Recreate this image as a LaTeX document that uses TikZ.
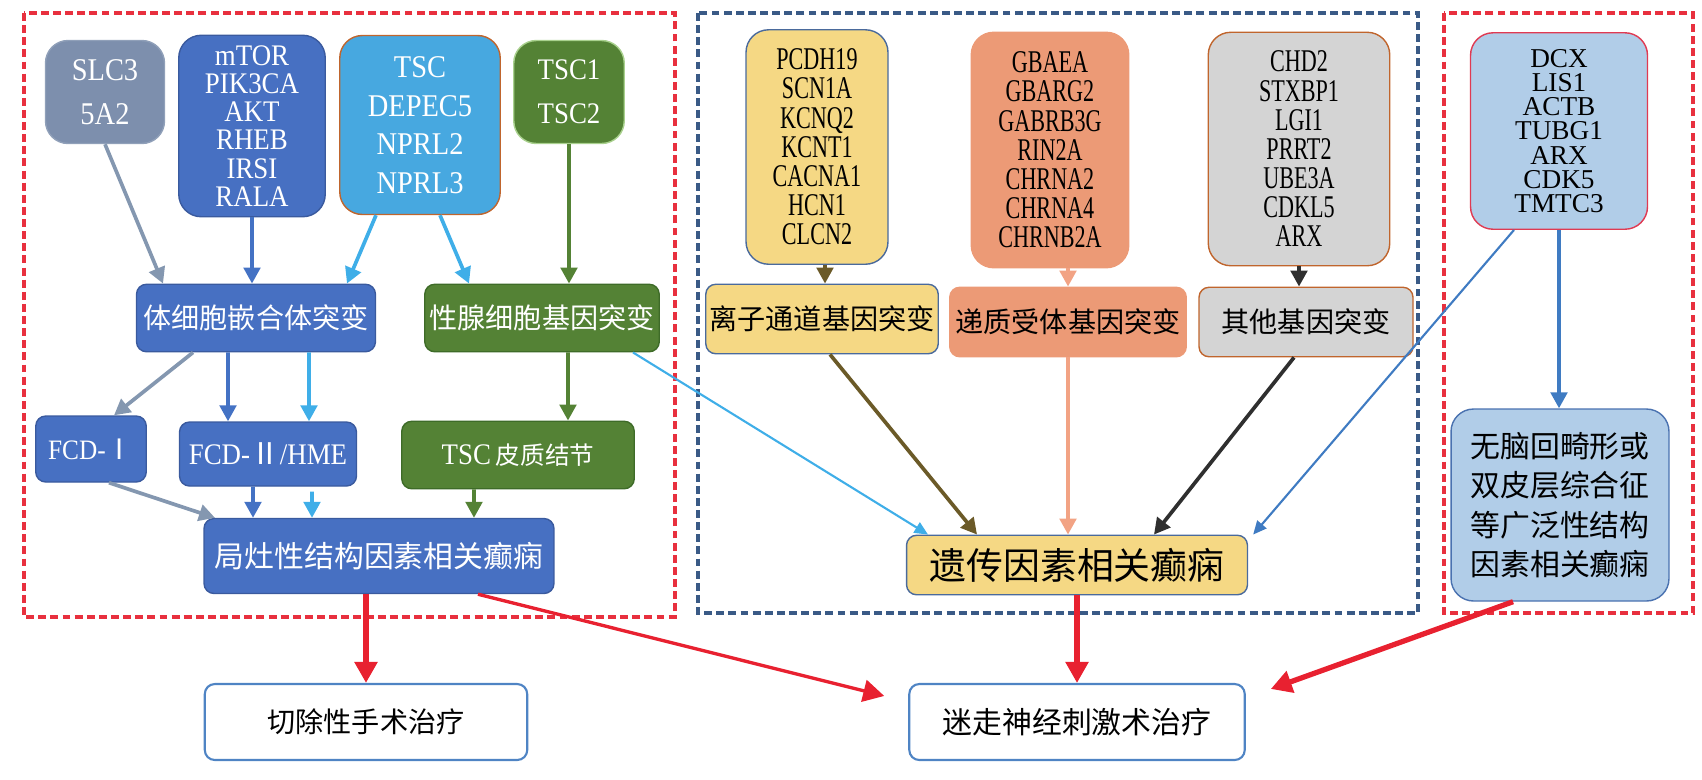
\documentclass[tikz,border=0pt]{standalone}
\usepackage{fontspec}
\setmainfont{Liberation Serif}
\newfontfamily\cjk{Noto Sans CJK SC}
\newfontfamily\genefont[FakeStretch=0.9]{Liberation Serif}
\newfontfamily\genenarrow[FakeStretch=0.7]{Liberation Serif}
\usetikzlibrary{arrows.meta,positioning}

\begin{document}
\begin{tikzpicture}[x=0.02cm,y=-0.02cm,
	box/.style={draw,rounded corners=0.2cm,line width=0.8pt,align=center,inner sep=1pt},
	genebox/.style={box,rounded corners=0.45cm,font=\genefont\fontsize{17}{16}\selectfont},
	midgene/.style={box,rounded corners=0.45cm,font=\genenarrow\fontsize{18}{16.6}\selectfont},
	zhbox/.style={box,font=\cjk\fontsize{16}{19}\selectfont},
	group/.style={line width=2pt,dash pattern=on 4.5pt off 2.4pt},
	arr/.style={line width=2.1pt,-{Triangle[width=0.33cm,length=0.32cm]}},
	thinarr/.style={line width=1.2pt,-{Triangle[width=0.24cm,length=0.27cm]}},
	redarr/.style={line width=3pt,color=arrred,-{Triangle[width=0.44cm,length=0.42cm]}}]

		    \definecolor{slcgray}{HTML}{7D8FAD}
		    \definecolor{mainblue}{HTML}{4770C2}
		    \definecolor{blueedge}{HTML}{3A5A9E}
		    \definecolor{tscblue}{HTML}{47A8E0}
		    \definecolor{brownedge}{HTML}{C0652D}
		    \definecolor{darkgreen}{HTML}{548235}
		    \definecolor{greenedge}{HTML}{3E6B28}
		    \definecolor{lightgreen}{HTML}{A9D18E}
		    \definecolor{yellowbox}{HTML}{F5D884}
		    \definecolor{yellowedge}{HTML}{4A6A9C}
		    \definecolor{salmonbox}{HTML}{EC9A76}
		    \definecolor{graybox}{HTML}{D4D4D4}
		    \definecolor{palebox}{HTML}{B1CDE8}
		    \definecolor{rededge}{HTML}{E03A52}
		    \definecolor{paleedge}{HTML}{4A72B0}
		    \definecolor{treatedge}{HTML}{4F84C4}
		    \definecolor{grpred}{HTML}{E8303E}
		    \definecolor{grpblue}{HTML}{3A5A86}
		    \definecolor{grayarr}{HTML}{8497B0}
		    \definecolor{bluearr}{HTML}{4472C4}
		    \definecolor{skyarr}{HTML}{3FAEE8}
		    \definecolor{olivearr}{HTML}{6B5A28}
		    \definecolor{salarr}{HTML}{F2A384}
		    \definecolor{darkarr}{HTML}{2F2F2F}
		    \definecolor{dcxarr}{HTML}{3F7BC2}
		    \definecolor{arrred}{HTML}{E82130}

		    \useasboundingbox (0,0) rectangle (1702,779);

		    \draw[group,grpred] (24,13) rectangle (675,617);
		    \draw[group,grpblue] (698,13) rectangle (1418,613);
		    \draw[group,grpred] (1444,13) rectangle (1693,613);

		    \node(slc) [genebox,fill=slcgray,draw=slcgray!85!white,text=white,minimum width=2.38cm,minimum height=2.06cm,font=\genefont\fontsize{18}{25}\selectfont] at (105,92) {SLC3\\5A2};
		    \node(mtor) [genebox,fill=mainblue,draw=blueedge,text=white,minimum width=2.93cm,minimum height=3.63cm] at (252,126) {mTOR\\PIK3CA\\AKT\\RHEB\\IRSI\\RALA};
		    \node(tsc) [genebox,fill=tscblue,draw=brownedge,text=white,minimum width=3.21cm,minimum height=3.58cm,font=\genefont\fontsize{18}{22}\selectfont] at (420,125) {TSC\\DEPEC5\\NPRL2\\NPRL3};
		    \node(tscb) [genebox,fill=darkgreen,draw=lightgreen,text=white,minimum width=2.21cm,minimum height=2.06cm,font=\genefont\fontsize{17}{25}\selectfont] at (569,92) {TSC1\\TSC2};

		    \node(soma) [zhbox,fill=mainblue,draw=blueedge,text=white,minimum width=4.78cm,minimum height=1.35cm] at (256,318) {体细胞嵌合体突变};
		    \node(gonad) [zhbox,fill=darkgreen,draw=greenedge,text=white,minimum width=4.69cm,minimum height=1.35cm] at (542,318) {性腺细胞基因突变};
		    \node(fcda) [box,fill=mainblue,draw=blueedge,text=white,minimum width=2.21cm,minimum height=1.32cm,font=\genefont\fontsize{16}{18}\selectfont] at (91,449) {FCD-{\cjk Ⅰ}};
		    \node(fcdb) [box,fill=mainblue,draw=blueedge,text=white,minimum width=3.54cm,minimum height=1.28cm,font=\genefont\fontsize{17}{18}\selectfont] at (268,454) {FCD-{\cjk Ⅱ}/HME};
		    \node(tscn) [box,fill=darkgreen,draw=greenedge,text=white,minimum width=4.65cm,minimum height=1.35cm,font=\genefont\fontsize{17}{18}\selectfont] at (518,455) {TSC\,{\cjk\fontsize{14}{18}\selectfont 皮质结节}};
		    \node(focal) [zhbox,fill=mainblue,draw=blueedge,text=white,minimum width=7cm,minimum height=1.5cm,font=\cjk\fontsize{17}{20}\selectfont] at (379,556) {局灶性结构因素相关癫痫};

		    \node(pcdh) [midgene,fill=yellowbox,draw=yellowedge,minimum width=2.84cm,minimum height=4.69cm] at (817,147) {PCDH19\\SCN1A\\KCNQ2\\KCNT1\\CACNA1\\HCN1\\CLCN2};
		    \node(gba) [midgene,fill=salmonbox,draw=salmonbox,minimum width=3.15cm,minimum height=4.71cm] at (1050,150) {GBAEA\\GBARG2\\GABRB3G\\RIN2A\\CHRNA2\\CHRNA4\\CHRNB2A};
		    \node(chd) [midgene,fill=graybox,draw=brownedge,minimum width=3.63cm,minimum height=4.67cm] at (1299,149) {CHD2\\STXBP1\\LGI1\\PRRT2\\UBE3A\\CDKL5\\ARX};
		    \node(ion) [zhbox,fill=yellowbox,draw=yellowedge,minimum width=4.65cm,minimum height=1.39cm] at (822,319) {离子通道基因突变};
		    \node(trans) [zhbox,fill=salmonbox,draw=salmonbox,minimum width=4.73cm,minimum height=1.39cm] at (1068,322) {递质受体基因突变};
		    \node(other) [zhbox,fill=graybox,draw=brownedge,minimum width=4.28cm,minimum height=1.39cm] at (1306,322) {其他基因突变};
		    \node(genetic) [zhbox,fill=yellowbox,draw=yellowedge,minimum width=6.82cm,minimum height=1.19cm,font=\cjk\fontsize{21}{22}\selectfont] at (1077,565) {遗传因素相关癫痫};

		    \node(dcx) [genebox,fill=palebox,draw=rededge,minimum width=3.54cm,minimum height=3.93cm,font=\fontsize{15.5}{13.8}\selectfont] at (1559,131) {DCX\\LIS1\\ACTB\\TUBG1\\ARX\\CDK5\\TMTC3};
		    \node(lis) [zhbox,rounded corners=0.45cm,fill=palebox,draw=paleedge,minimum width=4.36cm,minimum height=3.84cm,font=\cjk\fontsize{17}{22.5}\selectfont] at (1560,505) {无脑回畸形或\\双皮层综合征\\等广泛性结构\\因素相关癫痫};

		    \node(resect) [zhbox,fill=white,draw=treatedge,line width=1.2pt,minimum width=6.45cm,minimum height=1.52cm] at (366,722) {切除性手术治疗};
		    \node(vagus) [zhbox,fill=white,draw=treatedge,line width=1.2pt,minimum width=6.71cm,minimum height=1.52cm,font=\cjk\fontsize{17}{20}\selectfont] at (1077,722) {迷走神经刺激术治疗};

		    \draw[arr,color=grayarr] (slc.south) -- ([xshift=-1.86cm]soma.north);
		    \draw[arr,color=bluearr] (mtor.south) -- (mtor.south |- soma.north);
		    \draw[arr,color=skyarr] ([xshift=-0.88cm]tsc.south) -- ([xshift=1.82cm]soma.north);
		    \draw[arr,color=skyarr] ([xshift=0.4cm]tsc.south) -- ([xshift=-1.46cm]gonad.north);
		    \draw[arr,color=darkgreen] (tscb.south) -- (tscb.south |- gonad.north);

		    \draw[arr,color=grayarr] ([xshift=-1.26cm]soma.south) -- ([xshift=0.46cm]fcda.north);
		    \draw[arr,color=bluearr] ([xshift=-0.56cm]soma.south) -- ([xshift=-0.8cm]fcdb.north);
		    \draw[arr,color=skyarr] ([xshift=1.06cm]soma.south) -- ([xshift=0.82cm]fcdb.north);
		    \draw[arr,color=darkgreen] ([xshift=0.52cm]gonad.south) -- ([xshift=1cm]tscn.north);
		    \draw[thinarr,color=skyarr] ([xshift=1.82cm]gonad.south) -- ([xshift=-2.98cm]genetic.north);

		    \draw[arr,color=grayarr] ([xshift=0.36cm]fcda.south) -- ([xshift=-3.28cm]focal.north);
		    \draw[arr,color=bluearr] ([xshift=-0.3cm]fcdb.south) -- ([xshift=-2.52cm]focal.north);
		    \draw[arr,color=skyarr] ([xshift=0.88cm,yshift=-0.1cm]fcdb.south) -- ([xshift=-1.34cm]focal.north);
		    \draw[arr,color=darkgreen] ([xshift=-0.88cm]tscn.south) -- ([xshift=1.9cm]focal.north);

		    \draw[arr,color=olivearr] ([xshift=0.16cm]pcdh.south) -- ([xshift=0.16cm]pcdh.south |- ion.north);
		    \draw[arr,color=salarr] (trans.north |- gba.south) -- (trans.north);
		    \draw[arr,color=darkarr] (chd.south) -- (chd.south |- other.north);
		    \draw[arr,color=olivearr] ([xshift=0.16cm]ion.south) -- ([xshift=-2cm]genetic.north);
		    \draw[arr,color=salarr] (trans.south) -- (trans.south |- genetic.north);
		    \draw[arr,color=darkarr] ([xshift=-0.24cm]other.south) -- ([xshift=1.54cm]genetic.north);
		    \draw[thinarr,color=dcxarr] ([xshift=-0.9cm]dcx.south) -- ([xshift=0.1cm]genetic.north east);
		    \draw[arr,color=dcxarr] (dcx.south) -- (dcx.south |- lis.north);

		    \draw[redarr] (focal.south -| resect.north) -- (resect.north);
		    \draw[redarr,line width=1.9pt] ([xshift=1.98cm]focal.south) -- ([shift={(-0.48cm,-0.26cm)}]vagus.north west);
		    \draw[redarr] (genetic.south) -- (genetic.south |- vagus.north);
		    \draw[redarr] ([xshift=-0.94cm]lis.south) -- ([shift={(0.5cm,-0.12cm)}]vagus.north east);

\end{tikzpicture}
\end{document}
